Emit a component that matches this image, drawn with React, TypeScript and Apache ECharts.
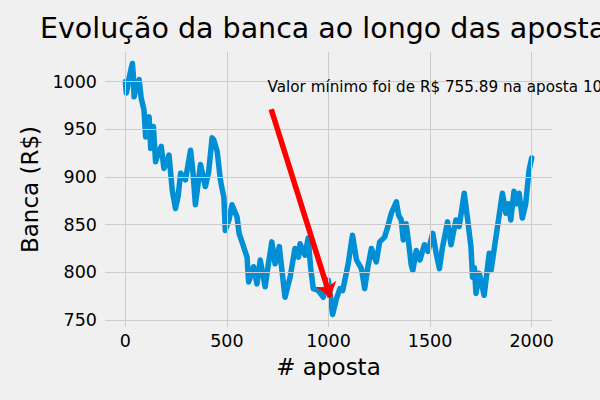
import React, { useEffect, useRef } from "react";
import * as echarts from "echarts";

const apostas = [0, 5, 12, 20, 30, 35, 40, 43, 55, 68, 78, 92, 100, 108, 117, 125, 138, 149, 162, 177, 190, 203, 215, 231, 247, 260, 272, 296, 321, 333, 345, 370, 394, 410, 427, 435, 452, 468, 476, 485, 492, 510, 525, 550, 560, 582, 599, 607, 620, 631, 648, 664, 688, 705, 721, 737, 758, 772, 786, 811, 835, 852, 860, 884, 900, 912, 925, 950, 974, 999, 1010, 1020, 1040, 1056, 1070, 1097, 1118, 1138, 1162, 1178, 1194, 1211, 1235, 1252, 1276, 1292, 1309, 1334, 1345, 1358, 1368, 1382, 1395, 1407, 1415, 1432, 1450, 1472, 1490, 1513, 1530, 1546, 1560, 1586, 1603, 1627, 1643, 1668, 1685, 1701, 1709, 1718, 1726, 1742, 1766, 1791, 1800, 1856, 1873, 1885, 1897, 1913, 1925, 1938, 1954, 1970, 1987, 2000];
const banca = [1000, 988, 995, 1005, 1015, 1019, 1005, 984, 995, 1002, 983, 970, 942, 955, 963, 930, 953, 916, 925, 932, 909, 915, 923, 886, 867, 880, 904, 897, 928, 905, 871, 913, 890, 905, 941, 939, 927, 897, 888, 879, 844, 855, 871, 858, 841, 827, 816, 790, 798, 806, 788, 813, 785, 810, 832, 809, 827, 800, 774, 795, 825, 816, 830, 818, 836, 805, 783, 781, 774, 792, 774, 755.89, 773, 783, 781, 809, 839, 813, 804, 783, 806, 825, 811, 832, 837, 848, 862, 874, 860, 855, 834, 851, 830, 808, 802, 823, 813, 829, 822, 841, 820, 804, 825, 853, 829, 855, 848, 883, 855, 827, 795, 805, 778, 799, 776, 820, 802, 883, 862, 872, 855, 885, 872, 883, 857, 871, 907, 920];

const xTicks = [0, 500, 1000, 1500, 2000];
const yTicks = [750, 800, 850, 900, 950, 1000];

const minValor = 755.89;
const minAposta = 1020;
const annotText = `Valor mínimo foi de R$ ${minValor.toFixed(2)} na aposta ${minAposta}`;
const textPos = [700, 994];
const arrowFrom = [718, 971];
const arrowTo = [1009, 774];

const FONT = "DejaVu Sans";

export default function App() {
  const ref = useRef<HTMLDivElement>(null);
  useEffect(() => {
    const chart = echarts.init(ref.current!, null, { renderer: "svg" });
    const gridLines = [
      ...xTicks.map((v) => ({ xAxis: v })),
      ...yTicks.map((v) => ({ yAxis: v })),
    ];
    chart.setOption({
      animation: false,
      backgroundColor: "#f0f0f0",
      textStyle: { fontFamily: FONT },
      title: {
        text: "Evolução da banca ao longo das apostas",
        left: 40,
        top: 14,
        padding: 0,
        textStyle: { fontFamily: FONT, fontSize: 28.5, fontWeight: "normal", color: "#000" },
      },
      grid: { left: 105, right: 48, top: 52, bottom: 73, containLabel: false, outerBoundsMode: "none" },
      xAxis: {
        type: "value",
        min: -100,
        max: 2100,
        name: "# aposta",
        nameLocation: "middle",
        nameGap: 28,
        nameTextStyle: { fontFamily: FONT, fontSize: 23, color: "#000" },
        axisLine: { show: false },
        axisTick: { show: false },
        splitLine: { show: false },
        axisLabel: {
          customValues: xTicks,
          formatter: (v: number) => String(v),
          fontFamily: FONT,
          fontSize: 17.5,
          color: "#000",
          margin: 5,
        },
      },
      yAxis: {
        type: "value",
        min: 742.8,
        max: 1031,
        name: "Banca (R$)",
        nameLocation: "middle",
        nameGap: 62,
        nameRotate: 90,
        nameTextStyle: { fontFamily: FONT, fontSize: 23, color: "#000" },
        axisLine: { show: false },
        axisTick: { show: false },
        splitLine: { show: false },
        axisLabel: {
          customValues: yTicks,
          formatter: (v: number) => String(v),
          fontFamily: FONT,
          fontSize: 17.5,
          color: "#000",
          margin: 8,
        },
      },
      series: [
        {
          type: "line",
          data: [],
          z: 1,
          silent: true,
          markLine: {
            silent: true,
            symbol: ["none", "none"],
            label: { show: false },
            lineStyle: { color: "#cbcbcb", width: 1, type: "solid" },
            data: gridLines,
          },
        },
        {
          type: "line",
          z: 3,
          data: apostas.map((x, i) => [x, banca[i]]),
          showSymbol: false,
          lineStyle: { color: "#008fd5", width: 5.5, join: "round", cap: "round" },
          itemStyle: { color: "#008fd5" },
          markLine: {
            silent: true,
            z: 5,
            symbol: ["none", "arrow"],
            symbolSize: [16, 14],
            label: { show: false },
            lineStyle: { color: "#ff0000", width: 5.5, type: "solid" },
            itemStyle: { color: "#ff0000" },
            data: [[{ coord: arrowFrom }, { coord: arrowTo }]],
          },
          markPoint: {
            silent: true,
            symbol: "rect",
            symbolSize: 0,
            data: [{ coord: textPos }],
            label: {
              show: true,
              position: "right",
              distance: 0,
              formatter: annotText,
              fontFamily: FONT,
              fontSize: 15.2,
              color: "#000",
            },
          },
        },
      ],
    });
    return () => chart.dispose();
  }, []);
  return <div ref={ref} style={{ width: 600, height: 400, position: "absolute", left: 0, top: 0 }} />;
}
